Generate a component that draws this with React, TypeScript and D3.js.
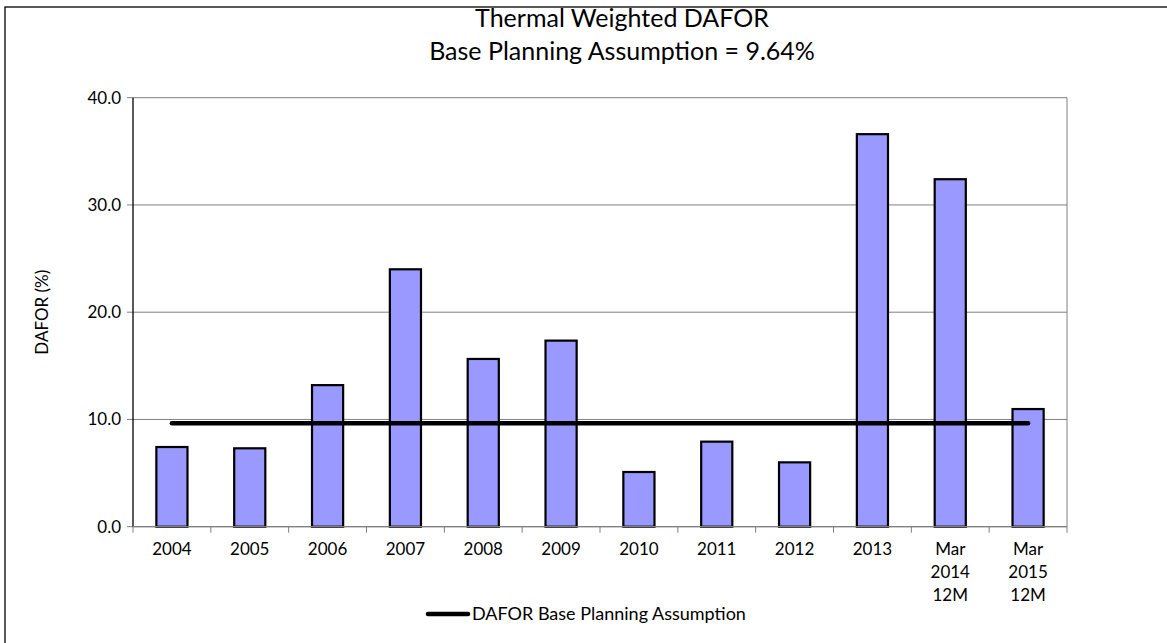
import React from "react";
import * as d3 from "d3";

const categories = [
  "2004", "2005", "2006", "2007", "2008", "2009",
  "2010", "2011", "2012", "2013", "Mar 2014 12M", "Mar 2015 12M",
];
const dafor = [7.43, 7.31, 13.2, 24.0, 15.64, 17.35, 5.1, 7.93, 6.0, 36.6, 32.4, 10.97];
const basePlanning = 9.64;
const yTicks = [0, 10, 20, 30, 40];

const WIDTH = 1167;
const HEIGHT = 643;
const PLOT = { LEFT: 133, RIGHT: 1067, TOP: 97.7, BOTTOM: 526.7 };
const FONT = "Lato, 'Open Sans', sans-serif";

const App = () => {
  const x = d3
    .scaleBand()
    .domain(categories)
    .range([PLOT.LEFT, PLOT.RIGHT])
    .paddingInner(0.6)
    .paddingOuter(0.3);

  const y = d3.scaleLinear().domain([0, 40]).range([PLOT.BOTTOM, PLOT.TOP]);

  const step = x.step();
  const boundaries = d3.range(categories.length + 1).map(i => PLOT.LEFT + i * step);
  const center = (c: string) => (x(c) as number) + x.bandwidth() / 2;

  const line = d3
    .line<number>()
    .x((_, i) => center(categories[i]))
    .y(d => y(d));
  const lineData = categories.map(() => basePlanning);

  return (
    <svg
      width={WIDTH}
      height={HEIGHT}
      style={{ position: "absolute", left: 0, top: 0, background: "#fff" }}
      fontFamily={FONT}
    >
      <rect x={5} y={7} width={WIDTH} height={HEIGHT} fill="#fff" stroke="#000" strokeWidth={1.3} />

      <text x={622} y={27} textAnchor="middle" fontSize={25} fill="#000">
        Thermal Weighted DAFOR
      </text>
      <text x={622} y={60} textAnchor="middle" fontSize={25} fill="#000">
        Base Planning Assumption = 9.64%
      </text>

      {/* gridlines */}
      {yTicks.map(t => (
        <line key={t} x1={PLOT.LEFT - 6} x2={PLOT.RIGHT} y1={y(t)} y2={y(t)} stroke="#808080" strokeWidth={1} />
      ))}
      <line x1={PLOT.RIGHT} x2={PLOT.RIGHT} y1={PLOT.TOP} y2={PLOT.BOTTOM} stroke="#808080" strokeWidth={1} />

      {/* y axis */}
      <line x1={PLOT.LEFT} x2={PLOT.LEFT} y1={PLOT.TOP} y2={PLOT.BOTTOM} stroke="#000" strokeWidth={1.3} />
      {yTicks.map(t => (
        <text key={t} x={PLOT.LEFT - 12} y={y(t)} dy="0.35em" textAnchor="end" fontSize={17} fill="#000">
          {t.toFixed(1)}
        </text>
      ))}
      <text
        transform={`translate(42, ${(PLOT.TOP + PLOT.BOTTOM) / 2}) rotate(-90)`}
        textAnchor="middle"
        dy="0.35em"
        fontSize={17}
        fill="#000"
      >
        DAFOR (%)
      </text>

      {/* bars */}
      {categories.map((c, i) => (
        <rect
          key={c}
          x={x(c)}
          y={y(dafor[i])}
          width={x.bandwidth()}
          height={y(0) - y(dafor[i])}
          fill="#9999FF"
          stroke="#000"
          strokeWidth={2.2}
        />
      ))}

      {/* x axis */}
      <line x1={PLOT.LEFT} x2={PLOT.RIGHT} y1={PLOT.BOTTOM} y2={PLOT.BOTTOM} stroke="#808080" strokeWidth={1.3} />
      {boundaries.map((b, i) => (
        <line key={i} x1={b} x2={b} y1={PLOT.BOTTOM} y2={PLOT.BOTTOM + 6} stroke="#808080" strokeWidth={1} />
      ))}
      {categories.map(c => {
        const parts = c.split(" ");
        return (
          <text key={c} x={center(c)} y={555} textAnchor="middle" fontSize={17} fill="#000">
            {parts.map((p, j) => (
              <tspan key={j} x={center(c)} dy={j === 0 ? 0 : 23}>
                {p}
              </tspan>
            ))}
          </text>
        );
      })}

      {/* base planning line */}
      <path d={line(lineData) ?? ""} fill="none" stroke="#000" strokeWidth={4.5} strokeLinecap="round" />

      {/* legend */}
      <line x1={428} x2={468} y1={614} y2={614} stroke="#000" strokeWidth={4.5} strokeLinecap="round" />
      <text x={472} y={620} fontSize={18} fill="#000">
        DAFOR Base Planning Assumption
      </text>
    </svg>
  );
};

export default App;
